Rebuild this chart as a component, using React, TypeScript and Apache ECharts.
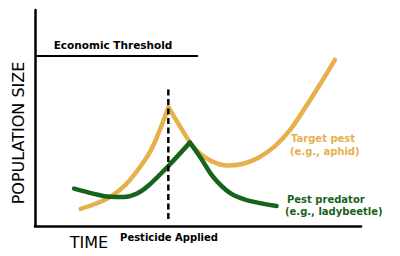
import React, { useEffect, useRef } from "react";
import * as echarts from "echarts";

// Time on x (0-100), population size on y (0-100)
const targetRise: [number, number][] = [
  [14.0, 7.9], [18.4, 10.2], [23.0, 13.4], [27.6, 18.8], [32.2, 27.3], [35.9, 36.1], [40.9, 55.0],
];
const targetFall: [number, number][] = [
  [40.9, 55.0], [44.2, 46.8], [47.5, 38.9], [50.6, 33.6], [54.3, 29.9], [58.8, 28.0], [63.5, 28.7],
  [68.4, 31.5], [73.6, 37.0], [78.2, 44.4], [82.8, 54.6], [87.4, 65.5], [92.0, 76.9],
];
const predatorRise: [number, number][] = [
  [12.0, 17.3], [17.8, 15.0], [23.0, 13.5], [27.3, 13.4], [31.3, 15.0], [35.3, 19.4], [40.9, 27.8], [47.5, 38.6],
];
const predatorFall: [number, number][] = [
  [47.5, 38.6], [50.6, 32.1], [54.6, 22.8], [59.8, 15.3], [64.9, 12.0], [74.1, 9.3],
];
const thresholdLine: [number, number][] = [[0, 78.7], [50, 78.7]];
const pesticideLine: [number, number][] = [[40.9, 3.2], [40.9, 64.8]];

const ORANGE = "#E6B04B";
const GREEN = "#17631A";
const FONT = "DejaVu Sans, Verdana, sans-serif";

export default function App() {
  const ref = useRef<HTMLDivElement>(null);
  useEffect(() => {
    document.body.style.margin = "0";
    const chart = echarts.init(ref.current!, null, { renderer: "svg" });
    const curve = (data: [number, number][], color: string, z: number) => ({
      type: "line",
      data,
      smooth: 0.4,
      symbol: "none",
      z,
      lineStyle: { color, width: 4.5, cap: "round", join: "round" },
    });
    chart.setOption({
      animation: false,
      grid: { left: 35, right: 39, top: 10, bottom: 30 },
      xAxis: {
        type: "value", min: 0, max: 100,
        axisLine: { show: true, onZero: false, lineStyle: { color: "#000", width: 2.5 } },
        axisTick: { show: false }, axisLabel: { show: false }, splitLine: { show: false },
      },
      yAxis: {
        type: "value", min: 0, max: 100,
        axisLine: { show: true, onZero: false, lineStyle: { color: "#000", width: 2.5 } },
        axisTick: { show: false }, axisLabel: { show: false }, splitLine: { show: false },
      },
      series: [
        {
          type: "line", data: thresholdLine, symbol: "none", z: 2,
          lineStyle: { color: "#000", width: 2 },
        },
        curve(targetRise, ORANGE, 3),
        curve(targetFall, ORANGE, 3),
        curve(predatorRise, GREEN, 4),
        curve(predatorFall, GREEN, 4),
        {
          type: "line", data: pesticideLine, symbol: "none", z: 5,
          lineStyle: { color: "#000", width: 2.5, type: [6, 3.5] },
        },
      ],
      graphic: [
        {
          type: "text", x: 113, y: 45,
          style: { text: "Economic Threshold", font: `bold 10.5px ${FONT}`, fill: "#000", align: "center", verticalAlign: "middle" },
        },
        {
          type: "text", x: 18, y: 133, rotation: Math.PI / 2,
          style: { text: "POPULATION SIZE", font: `16px ${FONT}`, fill: "#000", align: "center", verticalAlign: "middle" },
        },
        {
          type: "text", x: 89, y: 242,
          style: { text: "TIME", font: `16px ${FONT}`, fill: "#000", align: "center", verticalAlign: "middle" },
        },
        {
          type: "text", x: 169, y: 237,
          style: { text: "Pesticide Applied", font: `bold 10px ${FONT}`, fill: "#000", align: "center", verticalAlign: "middle" },
        },
        {
          type: "text", x: 291, y: 138,
          style: { text: "Target pest", font: `bold 10px ${FONT}`, fill: ORANGE, align: "left", verticalAlign: "middle" },
        },
        {
          type: "text", x: 290, y: 151,
          style: { text: "(e.g., aphid)", font: `bold 10px ${FONT}`, fill: ORANGE, align: "left", verticalAlign: "middle" },
        },
        {
          type: "text", x: 287, y: 199,
          style: { text: "Pest predator", font: `bold 10px ${FONT}`, fill: GREEN, align: "left", verticalAlign: "middle" },
        },
        {
          type: "text", x: 285, y: 211.5,
          style: { text: "(e.g., ladybeetle)", font: `bold 10px ${FONT}`, fill: GREEN, align: "left", verticalAlign: "middle" },
        },
      ],
    });
    return () => chart.dispose();
  }, []);
  return <div ref={ref} style={{ width: 400, height: 256 }} />;
}
